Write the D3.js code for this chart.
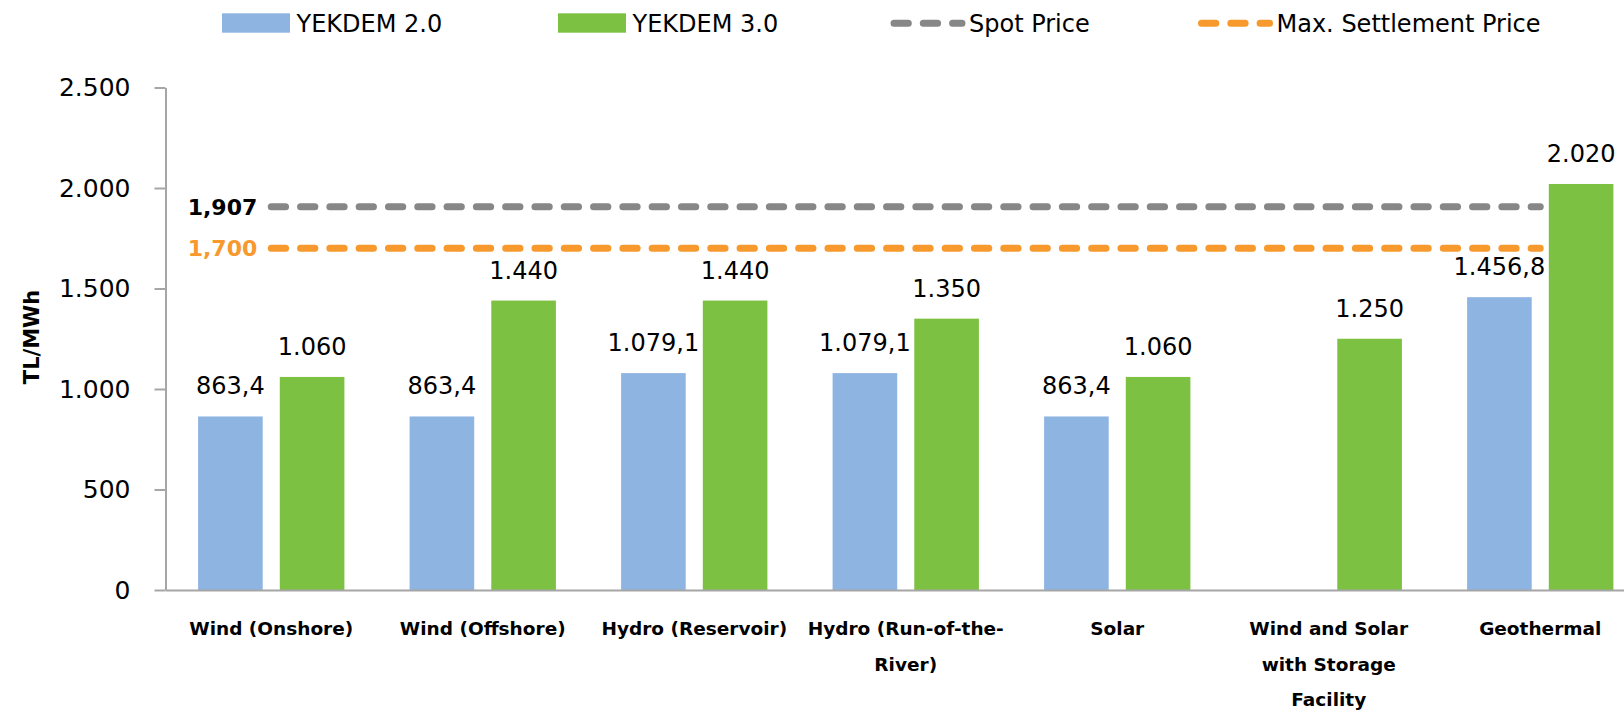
<!DOCTYPE html>
<head>
  <meta charset="utf-8">
  <title>YEKDEM 2.0 vs YEKDEM 3.0</title>
  <style>
    body { margin: 0; background: #fff; }
    text { font-family: "DejaVu Sans", Arial, sans-serif; }
  </style>
  <script src="https://cdn.jsdelivr.net/npm/d3@7/dist/d3.min.js"></script>
</head>

<body>
  <script>
    // data
    var categories = ["Wind (Onshore)", "Wind (Offshore)", "Hydro (Reservoir)", "Hydro (Run-of-the-River)",
                      "Solar", "Wind and Solar with Storage Facility", "Geothermal"];
    var categoryLines = [["Wind (Onshore)"], ["Wind (Offshore)"], ["Hydro (Reservoir)"], ["Hydro (Run-of-the-", "River)"],
                         ["Solar"], ["Wind and Solar", "with Storage", "Facility"], ["Geothermal"]];
    var seriesNames = ["YEKDEM 2.0", "YEKDEM 3.0"];
    var yekdem2 = [863.4, 863.4, 1079.1, 1079.1, 863.4, null, 1456.8];
    var yekdem3 = [1060, 1440, 1440, 1350, 1060, 1250, 2020];
    var lineNames = ["Spot Price", "Max. Settlement Price"];
    var lineValues = [1907, 1700];
    var yTicks = [0, 500, 1000, 1500, 2000, 2500];

    var barColors = ["#8eb4e2", "#7dc142"];
    var lineColors = ["#878787", "#f7992d"];
    var lineLabelColors = ["#000000", "#f7992d"];

    var width = 1624, height = 715;
    var margin = {top: 87.5, left: 165.5, bottom: 590};
    var bandStep = 211.5;

    var svg = d3.select("body")
                .append("svg")
                .attr("width", width)
                .attr("height", height);

    // turkish style numbers on the bars and ticks
    var tr = d3.formatLocale({decimal: ",", thousands: ".", grouping: [3], currency: ["", ""]});
    var fmtInt = tr.format(",.0f");
    var fmtDec = tr.format(",.1f");

    var xScale = d3.scaleBand()
                .domain(categories)
                .range([margin.left, margin.left + bandStep * categories.length]);
    var xInner = d3.scaleBand()
                .domain(seriesNames)
                .range([0, xScale.bandwidth()])
                .paddingInner(0.209)
                .paddingOuter(0.399);
    var yScale = d3.scaleLinear()
                .domain([0, 2500])
                .range([margin.bottom, margin.top]);

    var rows = categories.map(function (c, i) {
      return {cat: c, vals: [yekdem2[i], yekdem3[i]]};
    });

    // bars
    var groups = svg.append("g")
      .selectAll("g")
      .data(rows)
      .enter()
      .append("g")
        .attr("transform", d => "translate(" + xScale(d.cat) + ",0)");

    var cells = groups.selectAll("g")
      .data(d => d.vals.map((v, j) => ({name: seriesNames[j], j: j, v: v})).filter(e => e.v != null))
      .enter()
      .append("g");

    cells.append("rect")
      .attr("x", d => xInner(d.name))
      .attr("y", d => yScale(d.v))
      .attr("width", xInner.bandwidth())
      .attr("height", d => yScale(0) - yScale(d.v))
      .style("fill", d => barColors[d.j]);

    cells.append("text")
      .attr("x", d => xInner(d.name) + xInner.bandwidth() / 2)
      .attr("y", d => yScale(d.v) - 22)
      .attr("text-anchor", "middle")
      .style("font-size", "24px")
      .style("fill", "#000")
      .text(d => d.j == 0 ? fmtDec(d.v) : fmtInt(d.v));

    // y axis
    var yAxis = svg.append("g")
      .attr("transform", "translate(" + margin.left + ",0)")
      .call(d3.axisLeft(yScale).tickValues(yTicks).tickSize(11).tickSizeOuter(0).tickPadding(24).tickFormat(fmtInt));
    yAxis.select(".domain").style("stroke", "#a6a6a6").style("stroke-width", 2);
    yAxis.selectAll(".tick line").style("stroke", "#a6a6a6").style("stroke-width", 2);
    yAxis.selectAll(".tick text")
      .style("font-size", "25px")
      .style("font-family", "DejaVu Sans")
      .style("fill", "#000");

    // x axis line
    var xAxis = svg.append("g")
      .attr("transform", "translate(0," + margin.bottom + ")")
      .call(d3.axisBottom(xScale).tickSize(0).tickSizeOuter(0).tickFormat(""));
    xAxis.select(".domain").style("stroke", "#a6a6a6").style("stroke-width", 2);

    // category labels, wrapped like the original
    svg.append("g")
      .selectAll("text")
      .data(categories)
      .enter()
      .append("text")
        .attr("text-anchor", "middle")
        .style("font-size", "18.5px")
        .style("font-weight", "bold")
        .style("fill", "#000")
        .each(function (c, i) {
          var t = d3.select(this);
          var cx = xScale(c) + xScale.bandwidth() / 2;
          categoryLines[i].forEach(function (line, k) {
            t.append("tspan")
              .attr("x", cx)
              .attr("y", 635 + k * 35.7)
              .text(line);
          });
        });

    // y axis title
    svg.append("text")
      .attr("transform", "translate(39,337) rotate(-90)")
      .attr("text-anchor", "middle")
      .style("font-size", "21px")
      .style("font-weight", "bold")
      .text("TL/MWh");

    // spot and max settlement lines
    var x0 = xScale(categories[0]) + xScale.bandwidth() / 2;
    var x1 = xScale(categories[categories.length - 1]) + xScale.bandwidth() / 2;
    lineValues.forEach(function (v, i) {
      svg.append("line")
        .attr("x1", x0).attr("x2", x1)
        .attr("y1", yScale(v)).attr("y2", yScale(v))
        .style("stroke", lineColors[i])
        .style("stroke-width", 7)
        .style("stroke-linecap", "round")
        .style("stroke-dasharray", "14.3 15");
      svg.append("text")
        .attr("x", x0 - 14)
        .attr("y", yScale(v) + 8)
        .attr("text-anchor", "end")
        .style("font-size", "22px")
        .style("font-weight", "bold")
        .style("fill", lineLabelColors[i])
        .text(d3.format(",")(v));
    });

    // legend
    var legendX = [222, 558, 894, 1201.5];
    seriesNames.forEach(function (name, i) {
      var lg = svg.append("g").attr("transform", "translate(" + legendX[i] + ",0)");
      lg.append("rect")
        .attr("x", 0).attr("y", 13.3)
        .attr("width", 68).attr("height", 19.4)
        .style("fill", barColors[i]);
      lg.append("text")
        .attr("x", 74.5).attr("y", 31.7)
        .style("font-size", "24px")
        .text(name);
    });
    lineNames.forEach(function (name, i) {
      var lg = svg.append("g").attr("transform", "translate(" + legendX[i + 2] + ",0)");
      lg.append("line")
        .attr("x1", 0).attr("x2", 68)
        .attr("y1", 23.3).attr("y2", 23.3)
        .style("stroke", lineColors[i])
        .style("stroke-width", 7)
        .style("stroke-linecap", "round")
        .style("stroke-dasharray", "14.3 15");
      lg.append("text")
        .attr("x", 75).attr("y", 31.7)
        .style("font-size", "24px")
        .text(name);
    });
  </script>
</body>
